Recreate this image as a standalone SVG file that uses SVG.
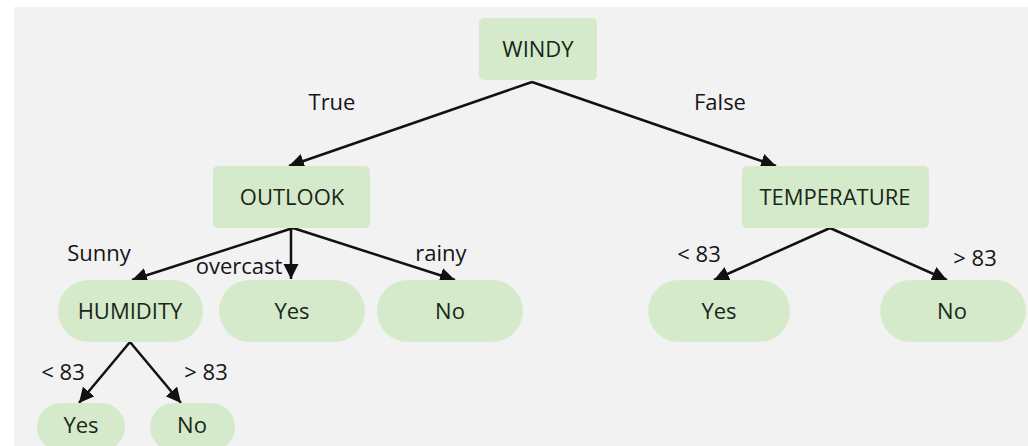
<svg xmlns="http://www.w3.org/2000/svg" width="1028" height="446" viewBox="0 0 1028 446">
  <defs>
    <marker id="arrow" markerUnits="userSpaceOnUse" markerWidth="18" markerHeight="16" refX="15" refY="7.5" orient="auto">
      <path d="M0,0 L15,7.5 L0,15 z" fill="#111"/>
    </marker>
    <style>
      .box { fill: #d5eacb; }
      .lbl { font-family: "Open Sans", "Noto Sans", sans-serif; font-size: 22px; fill: #1a261a; text-anchor: middle; }
      .edge-lbl { font-family: "Open Sans", "Noto Sans", sans-serif; font-size: 22px; fill: #151515; text-anchor: middle; }
      .edge { stroke: #111; stroke-width: 2.5; fill: none; marker-end: url(#arrow); }
    </style>
  </defs>

  <!-- canvas -->
  <rect x="0" y="0" width="1028" height="446" fill="#ffffff"/>
  <rect x="14" y="7" width="1014" height="439" fill="#f2f2f2"/>

  <!-- connectors -->
  <g id="connectors">
    <line class="edge" x1="532" y1="82" x2="289" y2="166"/>
    <line class="edge" x1="532" y1="82" x2="776" y2="166"/>
    <line class="edge" x1="293" y1="228" x2="132" y2="280"/>
    <line class="edge" x1="291" y1="228" x2="291" y2="279"/>
    <line class="edge" x1="293" y1="228" x2="455" y2="280"/>
    <line class="edge" x1="830" y1="228" x2="714" y2="280"/>
    <line class="edge" x1="830" y1="228" x2="947" y2="280"/>
    <line class="edge" x1="130" y1="342" x2="79" y2="403"/>
    <line class="edge" x1="130" y1="342" x2="181" y2="403"/>
  </g>

  <!-- edge labels -->
  <g id="edge-labels">
    <text class="edge-lbl" x="332" y="110">True</text>
    <text class="edge-lbl" x="720" y="110">False</text>
    <text class="edge-lbl" x="99" y="261">Sunny</text>
    <text class="edge-lbl" x="239" y="274">overcast</text>
    <text class="edge-lbl" x="441" y="261">rainy</text>
    <text class="edge-lbl" x="699" y="262">&lt; 83</text>
    <text class="edge-lbl" x="975" y="266">&gt; 83</text>
    <text class="edge-lbl" x="63" y="380">&lt; 83</text>
    <text class="edge-lbl" x="206" y="380">&gt; 83</text>
  </g>

  <!-- nodes -->
  <g id="windy">
    <rect class="box" x="479" y="18" width="118" height="62" rx="5"/>
    <text class="lbl" x="538" y="57">WINDY</text>
  </g>
  <g id="outlook">
    <rect class="box" x="213" y="166" width="157" height="62" rx="5"/>
    <text class="lbl" x="292" y="205">OUTLOOK</text>
  </g>
  <g id="temperature">
    <rect class="box" x="742" y="166" width="187" height="62" rx="5"/>
    <text class="lbl" x="835" y="205">TEMPERATURE</text>
  </g>
  <g id="humidity">
    <rect class="box" x="58" y="280" width="145" height="62" rx="31"/>
    <text class="lbl" x="130" y="319">HUMIDITY</text>
  </g>
  <g id="overcast-yes">
    <rect class="box" x="219" y="280" width="146" height="62" rx="31"/>
    <text class="lbl" x="292" y="319">Yes</text>
  </g>
  <g id="rainy-no">
    <rect class="box" x="377" y="280" width="146" height="62" rx="31"/>
    <text class="lbl" x="450" y="319">No</text>
  </g>
  <g id="temp-low-yes">
    <rect class="box" x="648" y="280" width="142" height="62" rx="31"/>
    <text class="lbl" x="719" y="319">Yes</text>
  </g>
  <g id="temp-high-no">
    <rect class="box" x="880" y="280" width="146" height="62" rx="31"/>
    <text class="lbl" x="952" y="319">No</text>
  </g>
  <g id="humidity-low-yes">
    <rect class="box" x="37" y="403" width="88" height="48" rx="24"/>
    <text class="lbl" x="81" y="433">Yes</text>
  </g>
  <g id="humidity-high-no">
    <rect class="box" x="150" y="403" width="85" height="48" rx="24"/>
    <text class="lbl" x="192" y="433">No</text>
  </g>
</svg>
